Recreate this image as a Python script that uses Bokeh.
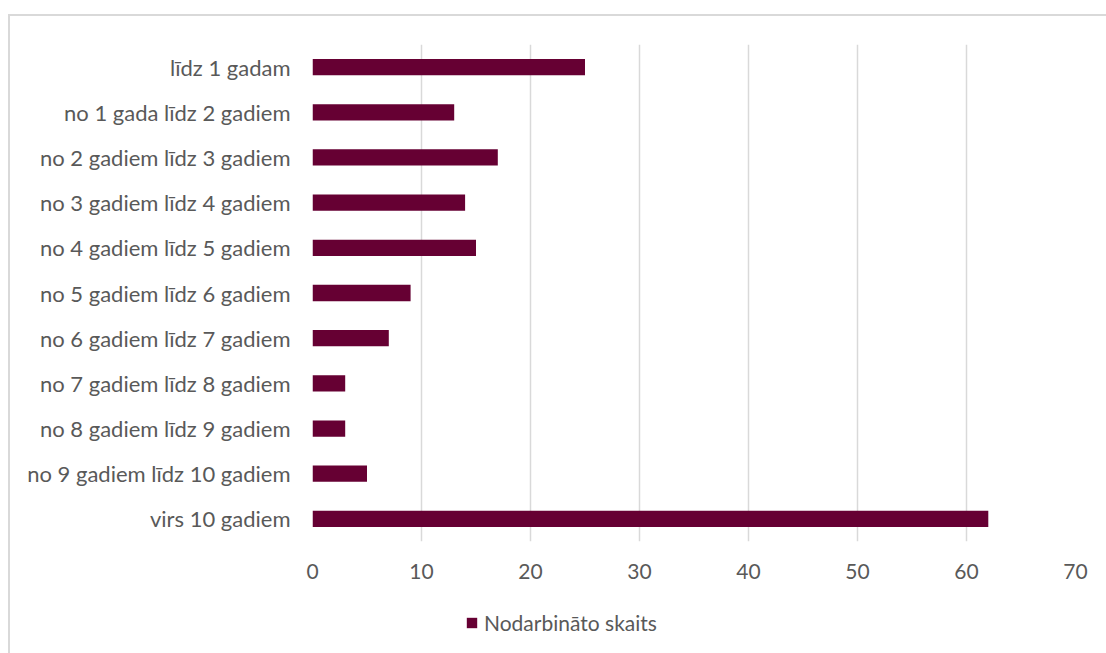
from bokeh.plotting import figure
from bokeh.layouts import column
from bokeh.models import ColumnDataSource, Range1d, FixedTicker, Legend, LegendItem
from bokeh.embed import file_html
from bokeh.resources import INLINE

categories = [
    "līdz 1 gadam",
    "no 1 gada līdz 2 gadiem",
    "no 2 gadiem līdz 3 gadiem",
    "no 3 gadiem līdz 4 gadiem",
    "no 4 gadiem līdz 5 gadiem",
    "no 5 gadiem līdz 6 gadiem",
    "no 6 gadiem līdz 7 gadiem",
    "no 7 gadiem līdz 8 gadiem",
    "no 8 gadiem līdz 9 gadiem",
    "no 9 gadiem līdz 10 gadiem",
    "virs 10 gadiem",
]
values = [25, 13, 17, 14, 15, 9, 7, 3, 3, 5, 62]
x_ticks = [0, 10, 20, 30, 40, 50, 60, 70]
series_name = "Nodarbināto skaits"

BAR = "#660033"
TXT = "#595959"
GRID = "#d9d9d9"
FONT = "Lato"
FS = "21px"

src = ColumnDataSource(dict(cat=categories, val=values))

p = figure(
    width=1096, height=572,
    y_range=list(reversed(categories)),
    x_range=Range1d(0, 70),
    output_backend="svg", toolbar_location=None,
    min_border_left=302, min_border_right=31,
    min_border_top=28, min_border_bottom=47,
)
p.outline_line_color = None
p.background_fill_color = "white"
p.border_fill_color = "white"

r = p.hbar(y="cat", right="val", left=0, height=0.36, source=src,
           fill_color=BAR, line_color=None)

p.xaxis.ticker = FixedTicker(ticks=x_ticks)
p.xaxis.axis_line_color = None
p.xaxis.major_tick_line_color = None
p.xaxis.minor_tick_line_color = None
p.xaxis.major_label_text_font = FONT
p.xaxis.major_label_text_font_size = FS
p.xaxis.major_label_text_color = TXT
p.xaxis.major_label_standoff = 16

p.yaxis.axis_line_color = None
p.yaxis.major_tick_line_color = None
p.yaxis.minor_tick_line_color = None
p.yaxis.major_label_text_font = FONT
p.yaxis.major_label_text_font_size = "22px"
p.yaxis.major_label_text_color = TXT
p.yaxis.major_label_standoff = 16

p.ygrid.grid_line_color = None
p.xgrid.grid_line_color = GRID
p.xgrid.grid_line_width = 1.5

# legend strip below the chart (same series, hidden, only used for the key)
q = figure(
    width=1096, height=65,
    x_range=p.x_range, y_range=p.y_range,
    output_backend="svg", toolbar_location=None,
    min_border_left=302, min_border_right=31, min_border_top=0, min_border_bottom=0,
)
q.axis.visible = False
q.grid.visible = False
q.outline_line_color = None
q.border_fill_color = "white"
q.background_fill_color = "white"
lr = q.hbar(y="cat", right="val", left=0, height=0.36, source=src,
            fill_color=BAR, line_color=None, visible=False)

legend = Legend(
    items=[LegendItem(label=series_name, renderers=[lr])],
    location=(153, 18),
    orientation="horizontal",
    glyph_width=13, glyph_height=13,
    label_text_font=FONT, label_text_font_size=FS, label_text_color=TXT,
    label_standoff=6, border_line_color=None, background_fill_alpha=0,
    padding=0, margin=0,
)
q.add_layout(legend, "center")

layout = column(p, q, spacing=0)
layout.styles = {"margin-top": "14px", "margin-left": "8px",
                 "border-top": "2px solid #d9d9d9", "border-left": "2px solid #d9d9d9"}

open("out.html", "w").write(file_html(layout, INLINE))
